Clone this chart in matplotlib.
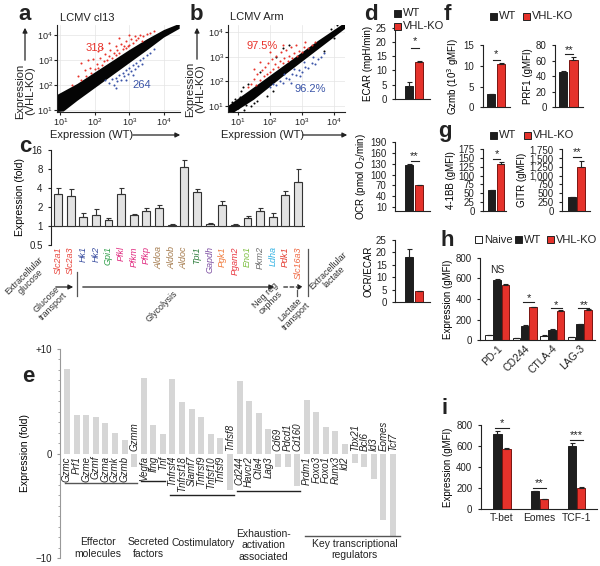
import matplotlib
matplotlib.use('Agg')
import matplotlib.pyplot as plt
from matplotlib.patches import Rectangle, FancyArrowPatch
from matplotlib.ticker import MultipleLocator, NullLocator, FuncFormatter
import numpy as np

# ---------------- data ----------------
# panels a/b: outline of the dense black cloud (log10 WT, log10 VHL-KO) and explicit coloured genes
band_a_x = [0.9, 1.5, 2.0, 2.5, 3.0, 3.5, 4.0, 4.45, 4.45, 4.0, 3.5, 3.0, 2.5, 2.0, 1.5, 1.1, 0.9]
band_a_y = [1.6, 2.05, 2.5, 2.95, 3.4, 3.82, 4.2, 4.45, 4.25, 3.9, 3.38, 2.88, 2.38, 1.88, 1.38, 0.95, 0.93]
red_a = [(1.35, 2.0), (1.5, 2.35), (1.6, 2.2), (1.7, 2.6), (1.75, 2.35), (1.85, 2.7), (1.9, 2.5),
         (1.95, 3.05), (2.0, 2.65), (2.05, 2.85), (2.1, 2.7), (2.15, 3.1), (2.2, 2.8), (2.25, 2.95),
         (2.3, 3.25), (2.35, 3.0), (2.4, 3.15), (2.45, 3.4), (2.5, 3.1), (2.55, 3.3), (2.6, 3.2),
         (2.6, 3.55), (2.65, 3.4), (2.7, 3.3), (2.75, 3.65), (2.8, 3.45), (2.85, 3.55), (2.9, 3.75),
         (2.95, 3.55), (3.0, 3.6), (3.05, 3.85), (3.1, 3.7), (3.15, 3.95), (3.2, 3.8), (3.25, 3.9),
         (3.3, 4.0), (3.4, 3.95), (3.5, 4.05), (3.6, 4.1), (3.7, 4.15), (2.2, 3.5), (1.8, 3.0),
         (2.4, 3.7), (3.0, 4.0), (2.7, 3.9), (1.6, 2.9), (2.1, 3.35), (3.35, 3.75), (2.9, 3.5)]
blue_a = [(2.3, 2.2), (2.4, 2.1), (2.5, 2.25), (2.55, 2.0), (2.6, 2.3), (2.65, 2.15), (2.7, 2.4),
          (2.75, 2.2), (2.8, 2.5), (2.85, 2.35), (2.9, 2.6), (2.95, 2.45), (3.0, 2.7), (3.05, 2.55),
          (3.1, 2.8), (3.15, 2.65), (3.2, 2.9), (3.25, 2.75), (3.3, 3.0), (3.35, 2.85), (3.4, 3.1),
          (3.5, 3.2), (3.6, 3.3), (3.7, 3.45), (2.6, 1.9), (2.9, 2.2), (3.1, 2.4)]
band_b_x = [0.7, 1.5, 2.5, 3.5, 4.35, 4.35, 3.5, 2.5, 1.5, 0.9, 0.7]
band_b_y = [1.0, 1.75, 2.7, 3.65, 4.4, 4.15, 3.3, 2.3, 1.25, 0.75, 0.75]
black_b = [(0.9, 1.3), (1.0, 0.9), (1.1, 1.6), (1.2, 0.85), (0.8, 1.15), (1.3, 1.9), (1.5, 1.1),
           (1.7, 2.4), (1.9, 1.4), (2.2, 3.0), (2.6, 3.5), (2.1, 1.6), (3.9, 4.15), (4.1, 4.3),
           (0.85, 0.8), (1.05, 1.35), (1.4, 1.0), (2.4, 3.35), (1.15, 1.75), (0.75, 0.95),
           (1.6, 1.2), (3.7, 3.25), (4.0, 3.75), (1.25, 1.05)]
red_b = [(1.3, 1.75), (1.4, 1.9), (1.5, 2.1), (1.55, 1.85), (1.6, 2.3), (1.7, 2.05), (1.75, 2.45),
         (1.8, 2.2), (1.85, 2.6), (1.9, 2.3), (1.95, 2.75), (2.0, 2.4), (2.05, 2.9), (2.1, 2.5),
         (2.15, 2.7), (2.2, 3.05), (2.25, 2.6), (2.3, 2.85), (2.35, 3.2), (2.4, 2.75), (2.45, 2.95),
         (2.5, 3.3), (2.55, 2.85), (2.6, 3.05), (2.65, 3.4), (2.7, 2.95), (2.75, 3.15), (2.8, 3.5),
         (2.85, 3.05), (2.9, 3.25), (3.0, 3.2), (3.05, 3.4), (3.1, 3.6), (3.2, 3.35), (3.3, 3.5),
         (3.4, 3.6), (2.0, 3.2), (1.7, 2.8), (2.4, 3.5), (1.5, 2.5)]
blue_b = [(2.0, 1.75), (2.1, 1.9), (2.2, 1.85), (2.3, 2.0), (2.4, 1.95), (2.5, 2.15), (2.6, 2.1),
          (2.7, 2.3), (2.8, 2.25), (2.9, 2.45), (3.0, 2.4), (3.1, 2.6), (3.2, 2.55), (3.3, 2.75),
          (3.4, 2.7), (3.5, 2.9), (3.6, 3.0), (3.7, 3.15), (2.45, 2.3), (2.75, 2.5), (3.05, 2.8),
          (3.35, 3.0), (2.65, 1.95), (2.95, 2.2)]

# panel c
c_genes = ['Slc2a1', 'Slc2a3', 'Hk1', 'Hk2', 'Gpi1', 'Pfkl', 'Pfkm', 'Pfkp', 'Aldoa', 'Aldob',
           'Aldoc', 'Tpi1', 'Gapdh', 'Pgk1', 'Pgam2', 'Eno1', 'Pkm2', 'Ldha', 'Pdk1', 'Slc16a3']
c_vals = [3.2, 3.0, 1.39, 1.5, 1.25, 3.2, 1.48, 1.73, 1.9, 1.05, 8.7, 3.4, 1.09, 2.17, 1.05,
          1.32, 1.75, 1.4, 3.06, 5.0]
c_err_top = [4.0, 3.8, 1.59, 1.84, 1.35, 4.05, 1.53, 1.9, 2.17, 1.07, 11.0, 3.9, 1.1, 2.5, 1.06,
             1.42, 1.93, 1.59, 3.6, 8.0]
c_colors = ['#e8453c', '#e8453c', '#3a4ea0', '#3a4ea0', '#2e9e48', '#e0297f', '#e0297f', '#e0297f',
            '#a47a4c', '#a47a4c', '#a47a4c', '#2e7d3c', '#7d4fa2', '#f07a3a', '#e8363f', '#7cbf3f',
            '#6e6e6e', '#2fb1e3', '#e33a2f', '#f06a45']

# panel e
e_genes = ['Gzmc', 'Prf1', 'Gzme', 'Gzmf', 'Gzma', 'Gzmk', 'Gzmb', 'Gzmm',
           'Vegfa', 'Ifng', 'Tnf',
           'Tnfrsf4', 'Tnfrsf18', 'Slamf7', 'Tnfrsf9', 'Tnfsf10', 'Tnfsf9', 'Tnfsf8',
           'Cd244', 'Havcr2', 'Ctla4', 'Lag3', 'Cd69', 'Pdcd1', 'Cd160',
           'Prdm1', 'Foxo3', 'Foxo1', 'Runx3', 'Id2', 'Tbx21', 'Bcl6', 'Id3', 'Eomes', 'Tcf7']
e_vals = [8.1, 3.7, 3.7, 3.5, 2.9, 2.0, 1.3, -1.3,
          7.2, 2.7, 1.85,
          7.1, 4.9, 4.25, 3.45, 1.9, 1.5, -3.5,
          6.9, 5.0, 3.9, 2.3, -1.3, -1.3, -3.1,
          5.1, 4.0, 2.5, 2.2, 0.9, -0.9, -1.3, -2.45, -6.4, -7.9]

# panel d
d_groups = ['WT', 'VHL-KO']
ecar = [4.6, 13.1]
ecar_err = [1.2, 0.3]
ocr = [125, 70]
ocr_err = [5, 2]
ocr_ecar = [18.0, 4.3]
ocr_ecar_err = [3.5, 0.2]

# panel f, g
gzmb = [3.1, 10.4]
gzmb_err = [0.15, 0.15]
prf1 = [45.5, 61.0]
prf1_err = [0.8, 3.0]
bb41 = [58, 134]
bb41_err = [1.5, 4]
gitr = [385, 1240]
gitr_err = [15, 170]

# panel h
h_markers = ['PD-1', 'CD244', 'CTLA-4', 'LAG-3']
h_naive = [50, 22, 45, 30]
h_naive_err = [3, 3, 3, 3]
h_wt = [580, 140, 104, 155]
h_wt_err = [18, 4, 4, 6]
h_ko = [535, 320, 285, 298]
h_ko_err = [6, 6, 8, 8]
h_sig = ['NS', '*', '*', '**']

# panel i
i_factors = ['T-bet', 'Eomes', 'TCF-1']
i_wt = [714, 168, 595]
i_wt_err = [30, 4, 35]
i_ko = [572, 94, 200]
i_ko_err = [12, 3, 12]
i_sig = ['*', '**', '***']

# ---------------- drawing ----------------
plt.rcParams['font.family'] = ['Liberation Sans', 'DejaVu Sans']
plt.rcParams['font.size'] = 7
plt.rcParams['axes.linewidth'] = 0.8
plt.rcParams['xtick.major.width'] = 0.8
plt.rcParams['ytick.major.width'] = 0.8
plt.rcParams['xtick.major.size'] = 2.5
plt.rcParams['ytick.major.size'] = 2.5
plt.rcParams['xtick.labelsize'] = 7
plt.rcParams['ytick.labelsize'] = 7
plt.rcParams['axes.edgecolor'] = '#222222'
plt.rcParams['text.color'] = '#222222'
plt.rcParams['xtick.color'] = '#222222'
plt.rcParams['ytick.color'] = '#222222'

W, H = 600, 566
fig = plt.figure(figsize=(6, 5.66), dpi=100)
RED = '#e5322b'
REDE = '#7a1410'
BLK = '#1e1e1e'
BLUE = '#3b55a8'


def ax_px(x0, y0, x1, y1):
    return fig.add_axes([x0 / W, 1 - y1 / H, (x1 - x0) / W, (y1 - y0) / H])


def ft(x, y, s, **kw):
    return fig.text(x / W, 1 - y / H, s, **kw)


def arrow(x0, y0, x1, y1, ls='-'):
    fig.add_artist(FancyArrowPatch((x0 / W, 1 - y0 / H), (x1 / W, 1 - y1 / H),
                                   transform=fig.transFigure, arrowstyle='-|>',
                                   mutation_scale=7, lw=0.9, color='#222222', linestyle=ls))


def vline(x, y0, y1):
    fig.add_artist(plt.Line2D([x / W, x / W], [1 - y0 / H, 1 - y1 / H],
                              transform=fig.transFigure, color='#555555', lw=0.9))


def sq(x, y, fc, s=7):
    fig.add_artist(Rectangle(((x - s / 2) / W, 1 - (y + s / 2) / H), s / W, s / H,
                             transform=fig.transFigure, fc=fc, ec='#222222', lw=0.7))


def plabel(x, y, s):
    ft(x, y, s, fontsize=16, fontweight='bold', ha='center', va='center')


def style(ax):
    for sp in ['top', 'right']:
        ax.spines[sp].set_visible(False)
    ax.tick_params(axis='x', length=0)
    ax.set_xticks([])


def sig(ax, x0, x1, yl, ys, s):
    ax.plot([x0, x1], [yl, yl], color='#222222', lw=0.8, clip_on=False)
    ax.text((x0 + x1) / 2, ys, s, ha='center', va='center', fontsize=8, clip_on=False)


def bars(ax, xs, vals, errs, fc, ec, w):
    ax.bar(xs, vals, width=w, color=fc, edgecolor=ec, lw=0.7, zorder=2)
    ax.errorbar(xs, vals, yerr=[[0] * len(vals), errs], fmt='none', ecolor='#222222',
                elinewidth=0.8, capsize=1.8, capthick=0.8, zorder=3)


# ----- panels a, b -----
def scatter_panel(ax, bx, by, pts_groups, xlim, ylim):
    ax.set_xscale('log')
    ax.set_yscale('log')
    ax.set_xlim(10 ** xlim[0], 10 ** xlim[1])
    ax.set_ylim(10 ** ylim[0], 10 ** ylim[1])
    ax.grid(True, which='major', color='#e4e4e4', lw=0.5)
    ax.set_axisbelow(True)
    ax.plot([10 ** xlim[0], 10 ** xlim[1]], [10 ** (ylim[0] + 0.1), 10 ** ylim[1]],
            color='#aaaaaa', lw=0.6, zorder=1)
    ax.fill(10 ** np.array(bx), 10 ** np.array(by), color='#050505', lw=0, zorder=2)
    for pts, col in pts_groups:
        p = np.array(pts)
        ax.scatter(10 ** p[:, 0], 10 ** p[:, 1], s=2.2, color=col, lw=0, zorder=3)
    for sp in ['top', 'right']:
        ax.spines[sp].set_visible(False)
    ax.set_xticks([10, 100, 1000, 10000])
    ax.set_yticks([10, 100, 1000, 10000])
    ax.xaxis.set_minor_locator(NullLocator())
    ax.yaxis.set_minor_locator(NullLocator())
    ax.tick_params(labelsize=6.5, pad=1, length=2)


axa = ax_px(57, 25, 180, 112)
scatter_panel(axa, band_a_x, band_a_y, [(red_a, '#e8332b'), (blue_a, BLUE)],
              (0.905, 4.46), (0.93, 4.4))
axa.text(10 ** 2.0, 10 ** 3.5, '318', color='#e8332b', fontsize=8, ha='center', va='center')
axa.text(10 ** 3.35, 10 ** 2.0, '264', color=BLUE, fontsize=8, ha='center', va='center')
plabel(25, 14, 'a')
ft(60, 18, 'LCMV cl13', fontsize=8, ha='left', va='center')
ft(25, 91, 'Expression\n(VHL-KO)', rotation=90, ha='center', va='center', fontsize=8,
   linespacing=1.0)
arrow(25, 63, 25, 25)
ft(92, 135, 'Expression (WT)', ha='center', va='center', fontsize=8)
arrow(130, 135, 183, 135)

axb = ax_px(228, 25, 345, 112)
scatter_panel(axb, band_b_x, band_b_y, [(black_b, '#050505'), (red_b, '#e8332b'), (blue_b, BLUE)],
              (0.69, 4.34), (0.75, 4.3))
axb.text(10 ** 1.75, 10 ** 3.45, '97.5%', color='#e8332b', fontsize=8, ha='center', va='center')
axb.text(10 ** 3.25, 10 ** 1.7, '96.2%', color=BLUE, fontsize=8, ha='center', va='center')
plabel(196, 14, 'b')
ft(230, 17, 'LCMV Arm', fontsize=8, ha='left', va='center')
ft(195, 89, 'Expression\n(VHL-KO)', rotation=90, ha='center', va='center', fontsize=8,
   linespacing=1.0)
arrow(197, 62, 197, 25)
ft(263, 135, 'Expression (WT)', ha='center', va='center', fontsize=8)
arrow(300, 135, 350, 135)

# ----- panel c -----
axc = ax_px(51, 150, 305, 245)
xc = np.arange(len(c_genes))
axc.set_yscale('log', base=2)
axc.set_ylim(0.5, 16)
axc.set_xlim(-0.55, len(c_genes) - 0.45)
axc.bar(xc, np.array(c_vals) - 1, bottom=1, width=0.62, color='#e2e2e2', edgecolor='#333333',
        lw=0.8, zorder=2)
axc.errorbar(xc, c_vals, yerr=[[0] * len(c_vals), np.array(c_err_top) - np.array(c_vals)],
             fmt='none', ecolor='#333333', elinewidth=0.8, capsize=1.8, capthick=0.8, zorder=3)
axc.axhline(1, color='#333333', lw=0.8, zorder=1)
axc.set_yticks([0.5, 1, 2, 4, 8, 16])
axc.set_yticklabels(['0.5', '1', '2', '4', '8', '16'])
axc.yaxis.set_minor_locator(NullLocator())
for sp in ['top', 'right', 'bottom']:
    axc.spines[sp].set_visible(False)
axc.set_xticks([])
axc.set_ylabel('Expression (fold)', fontsize=7.5, labelpad=3)
for i, (g, col) in enumerate(zip(c_genes, c_colors)):
    axc.text(i, 0.475, g, rotation=90, ha='center', va='top', fontsize=6.5, style='italic',
             color=col, clip_on=False)
plabel(25, 146, 'c')
# pathway arrows
arrow(53, 287, 76, 287)
vline(77, 272, 296)
arrow(80, 287, 277, 287)
arrow(281, 287, 306, 287, ls=(0, (3, 2)))
vline(297, 290, 296)
vline(308, 249, 296)
for (x, y, s) in [(27, 279, 'Extracellular\nglucose'), (50, 303, 'Glucose\ntransport'),
                  (162, 306, 'Glycolysis'), (268, 299, 'Neg reg\noxphos'),
                  (293, 313, 'Lactate\ntransport'), (331, 274, 'Extracellular\nlactate')]:
    ft(x, y, s, rotation=45, ha='center', va='center', fontsize=6.5, color='#333333',
       linespacing=1.0)

# ----- panel e -----
axe = ax_px(60, 349, 400, 558)
xe = np.arange(len(e_genes))
axe.bar(xe, e_vals, width=0.62, color='#d6d6d6', lw=0)
axe.set_ylim(-10, 10)
axe.set_xlim(-0.73, len(e_genes) - 0.27)
for sp in ['top', 'right', 'bottom']:
    axe.spines[sp].set_visible(False)
axe.spines['left'].set_color('#999999')
axe.set_xticks([])
axe.set_yticks([-10, 0, 10])
axe.set_yticklabels(['\u221210', '0', '+10'])
axe.yaxis.set_minor_locator(MultipleLocator(1))
axe.tick_params(axis='y', which='minor', length=1.5, color='#999999')
axe.tick_params(axis='y', which='major', length=2.5, color='#999999')
axe.set_ylabel('Expression (fold)', fontsize=7.5, labelpad=4)
for i, (g, v) in enumerate(zip(e_genes, e_vals)):
    if v > 0:
        axe.text(i, -0.25, g, rotation=90, ha='center', va='top', fontsize=7, style='italic')
    else:
        axe.text(i, 0.25, g, rotation=90, ha='center', va='bottom', fontsize=7, style='italic')
for (x0, x1, y, col) in [(-0.2, 7.3, -2.78, '#555555'), (7.7, 10.2, -2.6, '#222222'),
                         (10.7, 17.4, -3.95, '#222222'), (17.7, 24.3, -3.6, '#222222'),
                         (24.8, 34.7, -7.9, '#555555')]:
    axe.plot([x0, x1], [y, y], color=col, lw=1.0, clip_on=False)
for (x, y, s) in [(3.2, -9.05, 'Effector\nmolecules'), (8.45, -9.05, 'Secreted\nfactors'),
                  (14.2, -8.6, 'Costimulatory'), (20.5, -8.8, 'Exhaustion-\nactivation\nassociated'),
                  (30.0, -9.2, 'Key transcriptional\nregulators')]:
    axe.text(x, y, s, ha='center', va='center', fontsize=7.5, linespacing=1.15, clip_on=False)
plabel(28, 376, 'e')

# ----- panel d -----
xd = np.array([0, 1])
axd1 = ax_px(395, 27.7, 430, 99)
bars(axd1, xd[:1], ecar[:1], ecar_err[:1], BLK, BLK, 0.8)
bars(axd1, xd[1:], ecar[1:], ecar_err[1:], RED, REDE, 0.8)
axd1.set_xlim(-1.4, 2.1)
axd1.set_ylim(0, 25)
axd1.set_yticks(range(0, 26, 5))
style(axd1)
axd1.set_ylabel('ECAR (mpH/min)', fontsize=7, labelpad=2)
sig(axd1, 0.15, 0.95, 17.9, 20.2, '*')

axd2 = ax_px(395, 141.7, 430, 211)
bars(axd2, xd[:1], ocr[:1], ocr_err[:1], BLK, BLK, 0.8)
bars(axd2, xd[1:], ocr[1:], ocr_err[1:], RED, REDE, 0.8)
axd2.set_xlim(-1.4, 2.1)
axd2.set_ylim(0, 190)
axd2.set_yticks(range(10, 191, 30))
style(axd2)
axd2.set_ylabel('OCR (pmol O$_2$/min)', fontsize=7, labelpad=2)
sig(axd2, 0.15, 0.95, 137, 150, '**')

axd3 = ax_px(395, 240, 430, 302)
bars(axd3, xd[:1], ocr_ecar[:1], ocr_ecar_err[:1], BLK, BLK, 0.8)
bars(axd3, xd[1:], ocr_ecar[1:], ocr_ecar_err[1:], RED, REDE, 0.8)
axd3.set_xlim(-1.4, 2.1)
axd3.set_ylim(0, 25)
axd3.set_yticks(range(0, 26, 5))
style(axd3)
axd3.set_ylabel('OCR/ECAR', fontsize=7, labelpad=2)
plabel(371, 15, 'd')
sq(397, 13, BLK)
ft(403, 13, d_groups[0], fontsize=8, va='center')
sq(397, 26, RED)
ft(403, 26, d_groups[1], fontsize=8, va='center')

# ----- panel f -----
axf1 = ax_px(482.7, 45, 510, 107.3)
bars(axf1, xd[:1], gzmb[:1], gzmb_err[:1], BLK, BLK, 0.8)
bars(axf1, xd[1:], gzmb[1:], gzmb_err[1:], RED, REDE, 0.8)
axf1.set_xlim(-0.87, 1.97)
axf1.set_ylim(0, 15)
axf1.set_yticks([0, 5, 10, 15])
style(axf1)
axf1.set_ylabel('Gzmb (10$^3$ gMFI)', fontsize=7, labelpad=2)
sig(axf1, 0.15, 0.95, 11.4, 12.9, '*')

axf2 = ax_px(555, 45, 583, 107.3)
bars(axf2, xd[:1], prf1[:1], prf1_err[:1], BLK, BLK, 0.8)
bars(axf2, xd[1:], prf1[1:], prf1_err[1:], RED, REDE, 0.8)
axf2.set_xlim(-0.75, 1.9)
axf2.set_ylim(0, 80)
axf2.set_yticks(range(0, 81, 20))
style(axf2)
axf2.set_ylabel('PRF1 (gMFI)', fontsize=7, labelpad=2)
sig(axf2, 0.15, 0.95, 69, 74, '**')
plabel(447, 15, 'f')
sq(493, 16, BLK)
ft(499, 16, d_groups[0], fontsize=8, va='center')
sq(526, 16, RED)
ft(532, 16, d_groups[1], fontsize=8, va='center')

# ----- panel g -----
axg1 = ax_px(483, 149.3, 506, 210.7)
bars(axg1, xd[:1], bb41[:1], bb41_err[:1], BLK, BLK, 0.8)
bars(axg1, xd[1:], bb41[1:], bb41_err[1:], RED, REDE, 0.8)
axg1.set_xlim(-0.95, 1.6)
axg1.set_ylim(0, 175)
axg1.set_yticks(range(0, 176, 25))
style(axg1)
axg1.set_ylabel('4-1BB (gMFI)', fontsize=7, labelpad=2)
sig(axg1, 0.15, 0.95, 146.5, 161, '*')

axg2 = ax_px(562, 149.3, 590, 210.7)
bars(axg2, xd[:1], gitr[:1], gitr_err[:1], BLK, BLK, 0.8)
bars(axg2, xd[1:], gitr[1:], gitr_err[1:], RED, REDE, 0.8)
axg2.set_xlim(-1.0, 1.9)
axg2.set_ylim(0, 1750)
axg2.set_yticks(range(0, 1751, 250))
axg2.yaxis.set_major_formatter(FuncFormatter(lambda v, p: f'{int(v):,}'))
style(axg2)
axg2.set_ylabel('GITR (gMFI)', fontsize=7, labelpad=2)
sig(axg2, 0.15, 0.95, 1530, 1660, '**')
plabel(445, 132, 'g')
sq(493, 135, BLK)
ft(499, 135, d_groups[0], fontsize=8, va='center')
sq(527, 135, RED)
ft(533, 135, d_groups[1], fontsize=8, va='center')

# ----- panel h -----
axh = ax_px(480, 257.7, 595, 340.3)
xh = np.arange(len(h_markers))
bars(axh, xh - 0.3, h_naive, h_naive_err, 'white', '#222222', 0.27)
bars(axh, xh, h_wt, h_wt_err, BLK, BLK, 0.27)
bars(axh, xh + 0.3, h_ko, h_ko_err, RED, REDE, 0.27)
axh.set_xlim(-0.62, 3.56)
axh.set_ylim(0, 800)
axh.set_yticks(range(0, 801, 200))
style(axh)
axh.set_xticks(xh)
axh.set_xticklabels(h_markers, rotation=45, ha='right', rotation_mode='anchor', fontsize=7.5)
axh.tick_params(axis='x', length=0, pad=2)
axh.set_ylabel('Expression (gMFI)', fontsize=7, labelpad=2)
axh.text(0.0, 680, h_sig[0], ha='center', va='center', fontsize=7.5)
for k, (yl, ys) in zip([1, 2, 3], [(368, 405), (310, 345), (310, 345)]):
    sig(axh, k - 0.05, k + 0.35, yl, ys, h_sig[k])
plabel(447, 240, 'h')
sq(478, 240, 'white')
ft(484, 240, 'Naive', fontsize=8, va='center')
sq(518, 240, BLK)
ft(524, 240, d_groups[0], fontsize=8, va='center')
sq(550, 240, RED)
ft(556, 240, d_groups[1], fontsize=8, va='center')

# ----- panel i -----
axi = ax_px(480.7, 425, 597, 508.7)
xi = np.arange(len(i_factors))
bars(axi, xi - 0.12, i_wt, i_wt_err, BLK, BLK, 0.22)
bars(axi, xi + 0.12, i_ko, i_ko_err, RED, REDE, 0.22)
axi.set_xlim(-0.57, 2.55)
axi.set_ylim(0, 800)
axi.set_yticks(range(0, 801, 200))
style(axi)
axi.set_xticks(xi)
axi.set_xticklabels(i_factors, fontsize=7.5)
axi.tick_params(axis='x', length=0, pad=3)
axi.set_ylabel('Expression (gMFI)', fontsize=7, labelpad=2)
for k, (yl, ys) in enumerate([(774, 815), (200, 245), (657, 705)]):
    sig(axi, k - 0.18, k + 0.18, yl, ys, i_sig[k])
plabel(445, 408, 'i')

fig.savefig('out.png', dpi=100)
